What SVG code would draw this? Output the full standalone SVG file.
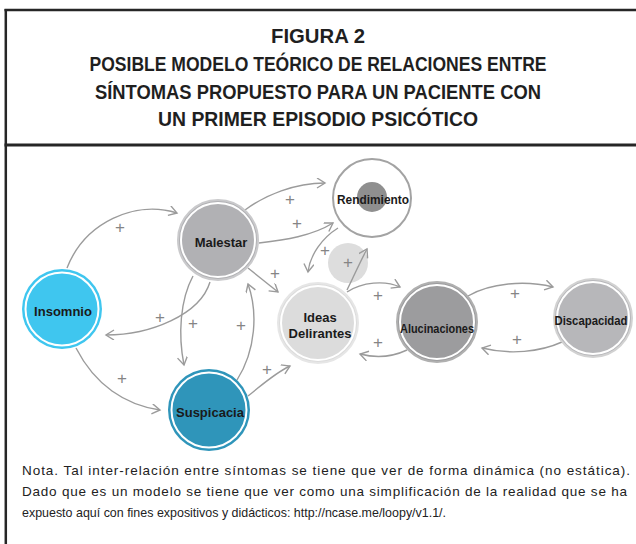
<svg xmlns="http://www.w3.org/2000/svg" width="636" height="544" viewBox="0 0 636 544">
<defs>
<style>
.h{font-family:"Liberation Sans",Arial,sans-serif;font-weight:bold;font-size:20px;fill:#1f1f1f;text-anchor:middle}
.t{font-family:"Liberation Sans",Arial,sans-serif;font-weight:bold;font-size:13px;fill:#1a1a1a;text-anchor:middle}
.n{font-family:"Liberation Sans",Arial,sans-serif;font-size:13.5px;fill:#222}
.e{fill:none;stroke:#9b9b9b;stroke-width:1.4;marker-end:url(#a)}
.p{font-family:"Liberation Sans",Arial,sans-serif;font-size:17px;fill:#858585;text-anchor:middle}
.ring{fill:none;stroke:#fff;stroke-width:2}
.fr{stroke:#262626;fill:none}
</style>
<marker id="a" markerWidth="12" markerHeight="12" refX="9" refY="5" orient="auto" markerUnits="userSpaceOnUse">
<path d="M1,0 L9,5 L1,10" fill="none" stroke="#9b9b9b" stroke-width="1.4"/>
</marker>
</defs>
<rect width="636" height="544" fill="#fff"/>
<g id="frame">
<line class="fr" x1="4.5" y1="10" x2="636" y2="10" stroke-width="2.5"/>
<line class="fr" x1="5.8" y1="9" x2="5.8" y2="544" stroke-width="2.5"/>
<line class="fr" x1="4.5" y1="145" x2="636" y2="145" stroke-width="3"/>
</g>
<g id="title">
<text class="h" x="318" y="43" textLength="94" lengthAdjust="spacingAndGlyphs">FIGURA 2</text>
<text class="h" x="318" y="71" textLength="457" lengthAdjust="spacingAndGlyphs">POSIBLE MODELO TEÓRICO DE RELACIONES ENTRE</text>
<text class="h" x="318" y="99" textLength="446" lengthAdjust="spacingAndGlyphs">SÍNTOMAS PROPUESTO PARA UN PACIENTE CON</text>
<text class="h" x="318" y="126" textLength="320" lengthAdjust="spacingAndGlyphs">UN PRIMER EPISODIO PSICÓTICO</text>
</g>
<g id="signal">
<circle cx="348" cy="263" r="20" fill="#dddddd"/>
</g>
<g id="connectors">
<path class="e" d="M67,268 C85,222 135,200 177,213"/>
<path class="e" d="M76,348 C95,385 125,405 160,410"/>
<path class="e" d="M245,210 C265,195 295,183 325,183"/>
<path class="e" d="M259,243 C285,240 312,236 333,223"/>
<path class="e" d="M338,228 C322,238 310,255 308,272"/>
<path class="e" d="M347,290 C354,276 360,262 367,249"/>
<path class="e" d="M248,268 L278,292"/>
<path class="e" d="M193,276 C180,300 178,335 184,365"/>
<path class="e" d="M210,282 C200,315 150,335 106,335"/>
<path class="e" d="M237,380 C256,350 258,312 248,284"/>
<path class="e" d="M248,396 C262,385 275,373 290,366"/>
<path class="e" d="M347,292 C362,282 385,280 400,287"/>
<path class="e" d="M407,350 C390,358 375,358 360,354"/>
<path class="e" d="M468,296 C490,283 525,280 553,287"/>
<path class="e" d="M562,342 C540,352 510,355 482,348"/>
<text class="p" x="120" y="233">+</text>
<text class="p" x="122" y="384">+</text>
<text class="p" x="290" y="205">+</text>
<text class="p" x="297" y="229">+</text>
<text class="p" x="325" y="256">+</text>
<text class="p" x="348" y="268">+</text>
<text class="p" x="275" y="279">+</text>
<text class="p" x="193" y="329">+</text>
<text class="p" x="160" y="323">+</text>
<text class="p" x="241" y="331">+</text>
<text class="p" x="267" y="375">+</text>
<text class="p" x="378" y="301">+</text>
<text class="p" x="378" y="348">+</text>
<text class="p" x="515" y="299">+</text>
<text class="p" x="517" y="345">+</text>
</g>
<g id="insomnio">
<circle cx="62" cy="309" r="40" fill="#3fc6ef"/>
<circle class="ring" cx="62" cy="309" r="36.5"/>
<text class="t" x="63" y="316">Insomnio</text>
</g>
<g id="malestar">
<circle cx="218" cy="240" r="40" fill="#b1b1b4" stroke="#cacacc" stroke-width="2"/>
<circle class="ring" cx="218" cy="240" r="37"/>
<text class="t" x="221" y="247">Malestar</text>
</g>
<g id="rendimiento">
<circle cx="372" cy="198" r="39" fill="#fff" stroke="#a3a3a3" stroke-width="2"/>
<circle cx="372" cy="197" r="15" fill="#8f8f8f"/>
<text class="t" x="373" y="204" textLength="72" lengthAdjust="spacingAndGlyphs">Rendimiento</text>
</g>
<g id="ideas">
<circle cx="318" cy="323" r="40" fill="#dcdcdc" stroke="#e6e6e6" stroke-width="2"/>
<circle class="ring" cx="318" cy="323" r="37"/>
<text class="t" x="320" y="322">Ideas</text>
<text class="t" x="320" y="338">Delirantes</text>
</g>
<g id="alucinaciones">
<circle cx="437" cy="322" r="40" fill="#9c9c9e" stroke="#b0b0b0" stroke-width="2"/>
<circle class="ring" cx="437" cy="322" r="37"/>
<text class="t" x="437" y="333" textLength="74" lengthAdjust="spacingAndGlyphs">Alucinaciones</text>
</g>
<g id="discapacidad">
<circle cx="593" cy="318" r="39" fill="#b7b7ba" stroke="#d2d2d2" stroke-width="2"/>
<circle class="ring" cx="593" cy="318" r="36"/>
<text class="t" x="591" y="325" style="font-size:12.5px" textLength="73" lengthAdjust="spacingAndGlyphs">Discapacidad</text>
</g>
<g id="suspicacia">
<circle cx="209" cy="410" r="41" fill="#2f95ba"/>
<circle class="ring" cx="209" cy="410" r="37.5"/>
<text class="t" x="210" y="417">Suspicacia</text>
</g>
<g id="nota">
<text class="n" x="22" y="475" textLength="608" lengthAdjust="spacing">Nota. Tal inter-relación entre síntomas se tiene que ver de forma dinámica (no estática).</text>
<text class="n" x="22" y="496" textLength="605" lengthAdjust="spacing">Dado que es un modelo se tiene que ver como una simplificación de la realidad que se ha</text>
<text class="n" x="22" y="517" textLength="424" lengthAdjust="spacingAndGlyphs">expuesto aquí con fines expositivos y didácticos: http://ncase.me/loopy/v1.1/.</text>
</g>
</svg>
